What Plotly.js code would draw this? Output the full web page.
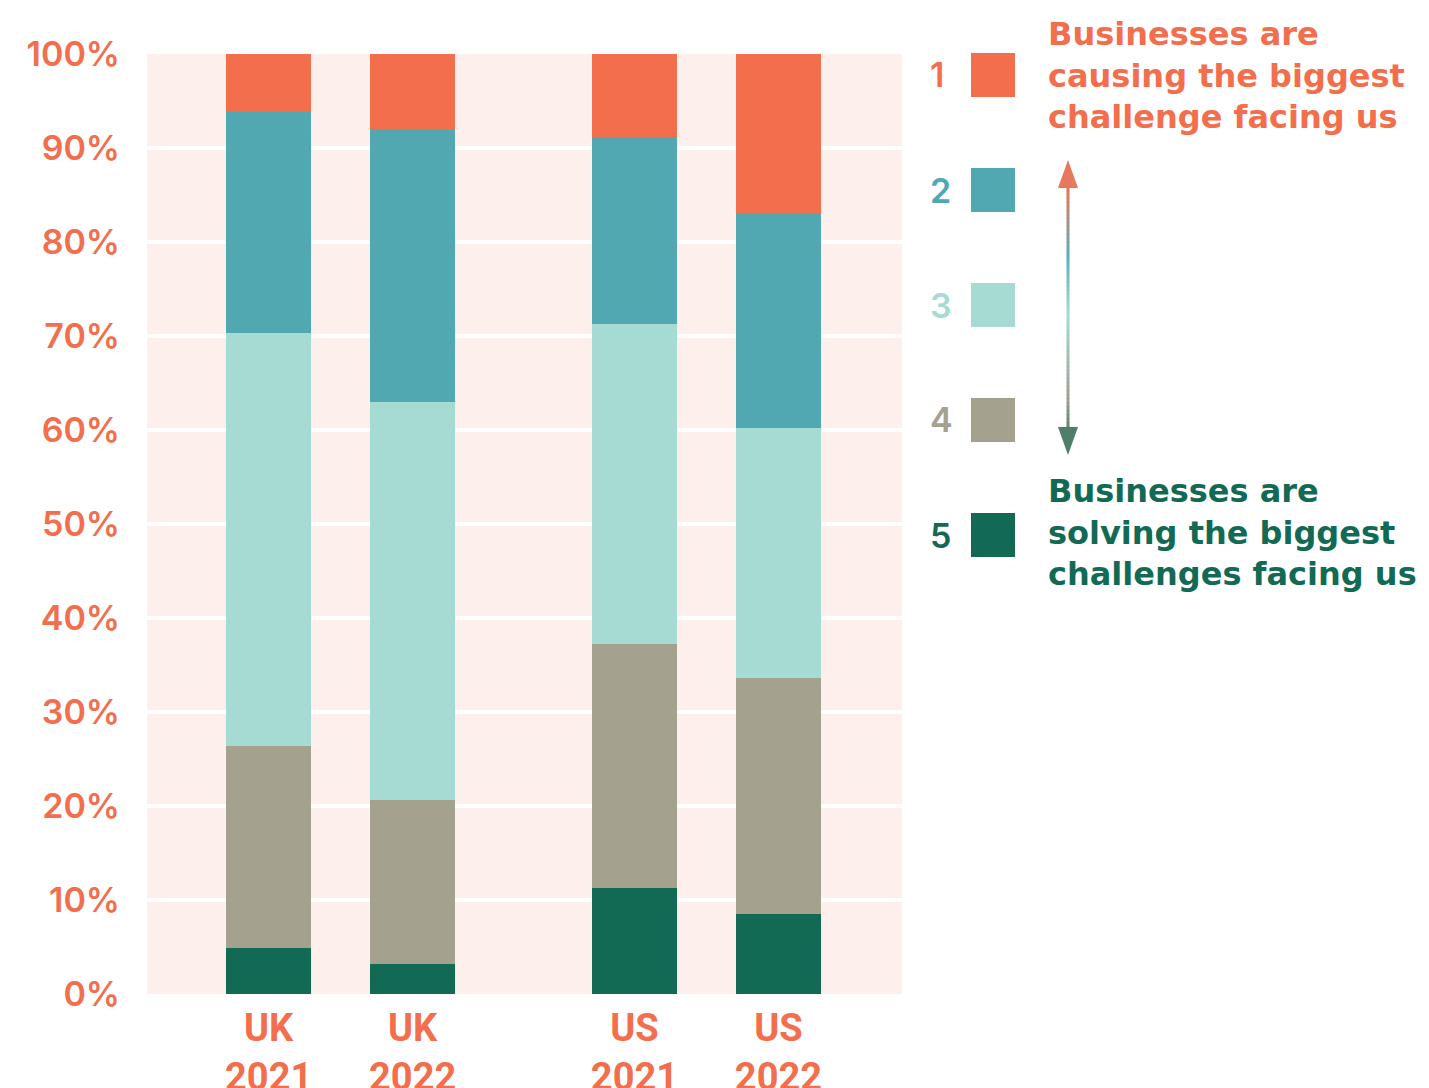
<!DOCTYPE html>
<html><head><meta charset="utf-8">
<script src="https://cdn.plot.ly/plotly-3.0.1.min.js"></script>
<style>body{margin:0;background:#fff}#chart{width:1429px;height:1088px}</style>
</head><body><div id="chart"></div>
<script>
// ---- data ----
const categories = ['UK 2021', 'UK 2022', 'US 2021', 'US 2022'];
const tickLabels = ['UK<br>2021', 'UK<br>2022', 'US<br>2021', 'US<br>2022'];
const levels = ['1', '2', '3', '4', '5'];
const level1 = [6.2, 8.0, 8.8, 16.9];
const level2 = [23.5, 29.0, 19.9, 22.9];
const level3 = [43.9, 42.4, 34.1, 26.6];
const level4 = [21.5, 17.4, 25.9, 25.1];
const level5 = [4.9, 3.2, 11.3, 8.5];
const topLabel = 'Businesses are<br>causing the biggest<br>challenge facing us';
const bottomLabel = 'Businesses are<br>solving the biggest<br>challenges facing us';

// ---- styling ----
const colors = ['#F26E4C', '#52A8B1', '#A6DBD3', '#A5A18F', '#126A55'];
const W = 1429, H = 1088;
const M = {l: 147, r: 527, t: 54, b: 94};
const PW = W - M.l - M.r, PH = H - M.t - M.b;
const px = v => (v - M.l) / PW;
const py = v => (H - M.b - v) / PH;
const mainFont = 'Inter, "Open Sans", sans-serif';
const legendFont = '"DejaVu Sans", Inter, sans-serif';

// positions: two country groups separated by an extra gap
const xpos = categories.map((c, i) => i + (i >= 2 ? 0.54 : 0));

const series = [level5, level4, level3, level2, level1];
const seriesColors = [colors[4], colors[3], colors[2], colors[1], colors[0]];
const seriesNames = [levels[4], levels[3], levels[2], levels[1], levels[0]];
const traces = series.map((vals, k) => ({
  type: 'bar', x: xpos, y: vals, name: seriesNames[k],
  width: 0.59, marker: {color: seriesColors[k], line: {width: 0}},
  hoverinfo: 'skip', showlegend: false
}));

const shapes = [], annotations = [];
// legend rows
const rowY = [75, 190, 305, 420, 535];
levels.forEach((lv, i) => {
  shapes.push({type: 'rect', xref: 'paper', yref: 'paper',
    x0: px(971), x1: px(1015), y0: py(rowY[i] + 22), y1: py(rowY[i] - 22),
    fillcolor: colors[i], line: {width: 0}});
  annotations.push({xref: 'paper', yref: 'paper', x: px(928), y: py(rowY[i]),
    xanchor: 'left', yanchor: 'middle', showarrow: false, text: lv,
    font: {family: mainFont, size: 34, weight: 600, color: colors[i]}});
});
annotations.push({xref: 'paper', yref: 'paper', x: px(1046), y: py(13),
  xanchor: 'left', yanchor: 'top', align: 'left', showarrow: false, text: topLabel,
  font: {family: legendFont, size: 32, weight: 700, color: colors[0]}});
annotations.push({xref: 'paper', yref: 'paper', x: px(1046), y: py(470),
  xanchor: 'left', yanchor: 'top', align: 'left', showarrow: false, text: bottomLabel,
  font: {family: legendFont, size: 32, weight: 700, color: '#126A55'}});

// gradient arrow
const stops = [[186, [238, 116, 84]], [255, [90, 175, 182]], [315, [166, 219, 211]], [400, [163, 159, 142]], [428, [90, 133, 114]]];
function colAt(y) {
  for (let k = 0; k < stops.length - 1; k++) {
    const [y0, c0] = stops[k], [y1, c1] = stops[k + 1];
    if (y >= y0 && y <= y1) {
      const t = (y - y0) / (y1 - y0);
      return 'rgb(' + c0.map((c, j) => Math.round(c + (c1[j] - c) * t)).join(',') + ')';
    }
  }
  return 'rgb(' + stops[stops.length - 1][1].join(',') + ')';
}
const ax = 1068;
for (let y = 186; y < 428; y += 4) {
  shapes.push({type: 'line', xref: 'paper', yref: 'paper',
    x0: px(ax), x1: px(ax), y0: py(y), y1: py(Math.min(y + 4.5, 428)),
    line: {color: colAt(y + 2), width: 3}});
}
shapes.push({type: 'path', xref: 'paper', yref: 'paper',
  path: `M ${px(ax)} ${py(160)} L ${px(ax - 10)} ${py(188)} L ${px(ax + 10)} ${py(188)} Z`,
  fillcolor: '#E6785D', line: {width: 0}});
shapes.push({type: 'path', xref: 'paper', yref: 'paper',
  path: `M ${px(ax)} ${py(455)} L ${px(ax - 10)} ${py(427)} L ${px(ax + 10)} ${py(427)} Z`,
  fillcolor: '#4F7F6B', line: {width: 0}});

const layout = {
  width: W, height: H, margin: M,
  paper_bgcolor: '#ffffff', plot_bgcolor: '#FDEFEB',
  barmode: 'stack', bargap: 0, showlegend: false,
  xaxis: {range: [-0.845, 4.398], tickvals: xpos, ticktext: tickLabels,
    showgrid: false, zeroline: false, showline: false, ticks: '',
    ticklabelstandoff: 8,
    tickfont: {family: '"Liberation Sans Narrow", "Roboto", sans-serif', size: 38, weight: 700, color: '#F26E4C'}},
  yaxis: {range: [0, 100], dtick: 10, ticksuffix: '%', showgrid: true,
    gridcolor: '#ffffff', gridwidth: 4, zeroline: false, showline: false, ticks: '',
    ticklabelstandoff: 26,
    tickfont: {family: mainFont, size: 34, weight: 600, color: '#F26E4C'}},
  shapes: shapes, annotations: annotations
};
Plotly.newPlot('chart', traces, layout, {displayModeBar: false, staticPlot: true});
</script></body></html>
